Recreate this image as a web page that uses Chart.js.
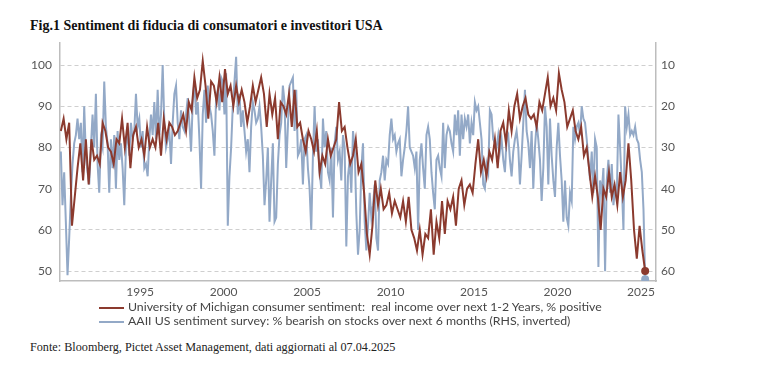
<!DOCTYPE html>
<html>
<head>
<meta charset="utf-8">
<script src="https://cdn.jsdelivr.net/npm/chart.js@4.4.1/dist/chart.umd.min.js"></script>
<style>
  body { margin: 0; background: #fff; width: 780px; height: 370px; position: relative; overflow: hidden; }
  #title { position: absolute; left: 30px; top: 18px; font: bold 14px "Liberation Serif", serif; color: #111; }
  #wrap { position: absolute; left: 0; top: 28px; width: 700px; height: 277px; }
  #legend { position: absolute; left: 99px; top: 300px; font: 12.3px Lato, sans-serif; color: #444; line-height: 14px; white-space: pre; }
  #legend .sw { display: inline-block; width: 25px; height: 2px; vertical-align: middle; margin-right: 4px; }
  #source { position: absolute; left: 30px; top: 340px; font: 12.2px "Liberation Serif", serif; color: #222; }
</style>
</head>
<body>
<div id="title">Fig.1 Sentiment di fiducia di consumatori e investitori USA</div>
<div id="wrap"><canvas id="myChart"></canvas></div>
<div id="legend"></div>
<div id="source">Fonte: Bloomberg, Pictet Asset Management, dati aggiornati al 07.04.2025</div>
<script>
// Michigan: % positive on real income, every 2 months from 1990.25
const michStart = 1990.25;
const michStep = 1 / 6;
const michValues = [
  84, 87, 82, 86, 61,
  68, 75, 81, 72, 82, 71,
  82, 77, 78, 76, 86, 84,
  80, 79, 76, 82, 81, 87,
  80, 86, 75, 83, 85, 80,
  82, 78, 85, 80, 82, 80,
  86, 78, 87, 82, 86, 85,
  83, 84, 86, 88, 84, 91,
  89, 97, 92, 94, 101, 95,
  87, 96, 95, 91, 97, 91,
  99, 93, 95, 90, 95, 91,
  94, 91, 86, 90, 95, 91,
  94, 97, 93, 85, 93, 88,
  92, 82, 91, 90, 88, 93,
  85, 94, 85, 86, 82, 79,
  84, 82, 79, 84, 74, 78,
  76, 82, 78, 80, 82, 91,
  84, 85, 80, 76, 78, 82,
  74, 76, 69, 59, 54, 61,
  72, 66, 70, 65, 66, 69,
  64, 67, 65, 63, 67, 62,
  68, 60, 58, 55, 60, 54,
  59, 58, 65, 54, 62, 58,
  67, 59, 67, 65, 68, 61,
  70, 72, 66, 70, 71, 69,
  76, 82, 74, 77, 73, 79,
  77, 82, 75, 84, 86, 81,
  89, 84, 90, 93, 87, 90,
  92, 88, 87, 88, 85, 91,
  89, 93, 97, 90, 92, 89,
  98, 94, 91, 85, 87, 89,
  84, 82, 85, 78, 80, 74,
  68, 73, 68, 60, 70, 68,
  74, 68, 71, 66, 74, 68,
  72, 81, 72, 60, 53, 61,
  55, 50
];

// AAII: % bearish, every 0.1 year from 1990.25 (right axis, inverted)
const aaiiStart = 1990.25;
const aaiiStep = 0.1;
const aaiiValues = [
  31, 44, 36, 48, 61, 52, 42, 34, 29, 27,
  23, 28, 24, 36, 20, 32, 36, 39, 30, 22,
  30, 17, 34, 41, 28, 30, 14, 25, 29, 41,
  28, 35, 27, 40, 26, 33, 29, 35, 44, 30,
  26, 32, 24, 28, 26, 17, 25, 23, 30, 26,
  35, 34, 37, 28, 22, 27, 19, 28, 16, 27,
  22, 10, 24, 30, 28, 26, 34, 24, 17, 15,
  24, 28, 21, 25, 26, 22, 18, 24, 31, 19,
  14, 22, 19, 28, 40, 22, 16, 24, 15, 20,
  22, 26, 32, 18, 16, 21, 13, 14, 22, 12,
  49, 37, 30, 20, 14, 8, 22, 17, 25, 21,
  26, 31, 28, 36, 25, 19, 21, 24, 23, 20,
  25, 32, 44, 38, 30, 48, 38, 29, 48, 47,
  34, 27, 24, 15, 19, 35, 25, 15, 14, 13,
  26, 16, 32, 31, 28, 39, 28, 27, 35, 40,
  50, 32, 20, 31, 28, 36, 40, 23, 30, 26,
  36, 38, 30, 47, 29, 25, 33, 31, 38, 27,
  30, 54, 37, 33, 41, 26, 30, 46, 56, 50,
  35, 29, 48, 55, 49, 41, 47, 44, 39, 52,
  55, 38, 36, 32, 38, 33, 34, 27, 23, 28,
  27, 31, 29, 28, 37, 33, 30, 26, 20, 30,
  31, 32, 35, 31, 50, 33, 29, 35, 40, 27,
  25, 28, 36, 41, 45, 33, 32, 35, 37, 24,
  35, 27, 25, 26, 29, 31, 22, 27, 21, 32,
  22, 28, 23, 25, 22, 29, 24, 27, 19, 21,
  20, 24, 28, 39, 40, 34, 36, 21, 22, 28,
  29, 30, 27, 31, 28, 33, 36, 28, 27, 33,
  37, 31, 28, 26, 30, 39, 32, 24, 16, 26,
  29, 35, 26, 40, 30, 24, 28, 33, 43, 35,
  20, 25, 39, 23, 32, 38, 42, 30, 24, 32,
  38, 48, 38, 47, 49, 41, 43, 25, 28, 25,
  24, 27, 20, 23, 24, 28, 33, 38, 31, 41,
  28, 30, 59, 38, 41, 35, 60, 38, 33, 41,
  34, 44, 40, 42, 22, 30, 39, 50, 20, 25,
  22, 27, 26, 27, 25, 28, 29, 33, 36, 45,
  62
];

const xTicks = [1995, 2000, 2005, 2010, 2015, 2020, 2025];
const leftTicks = [50, 60, 70, 80, 90, 100];
const rightTicks = [10, 20, 30, 40, 50, 60];

const michLabel = "University of Michigan consumer sentiment:  real income over next 1-2 Years, % positive";
const aaiiLabel = "AAII US sentiment survey: % bearish on stocks over next 6 months (RHS, inverted)";

const redColor = "#8b3a2e";
const blueColor = "#93a9c7";

const michPoints = michValues.map((v, i) => ({ x: michStart + i * michStep, y: v }));
const aaiiPoints = aaiiValues.map((v, i) => ({ x: aaiiStart + i * aaiiStep, y: v }));

function lastDot(ctx) {
  return ctx.dataIndex === ctx.dataset.data.length - 1 ? 3 : 0;
}

const tickFont = { family: "Lato, sans-serif", size: 12 };

const ctx = document.getElementById("myChart").getContext("2d");
const myChart = new Chart(ctx, {
  type: "line",
  data: {
    datasets: [
      {
        label: michLabel,
        data: michPoints,
        yAxisID: "y",
        borderColor: redColor,
        backgroundColor: redColor,
        borderWidth: 2,
        pointRadius: lastDot,
        tension: 0,
        order: 1
      },
      {
        label: aaiiLabel,
        data: aaiiPoints,
        yAxisID: "y2",
        borderColor: blueColor,
        backgroundColor: blueColor,
        borderWidth: 2,
        pointRadius: lastDot,
        tension: 0,
        order: 2
      }
    ]
  },
  options: {
    responsive: true,
    maintainAspectRatio: false,
    animation: false,
    layout: { padding: { top: 8, left: 0, right: 0, bottom: 0 } },
    plugins: { legend: { display: false }, tooltip: { enabled: false } },
    scales: {
      x: {
        type: "linear",
        min: 1990.2,
        max: 2025.9,
        afterBuildTicks: (s) => { s.ticks = xTicks.map((v) => ({ value: v })); },
        afterFit: (s) => { s.height = 24; },
        grid: { display: false, drawTicks: false },
        border: { display: true, color: "#bdbdbd", width: 1.5 },
        ticks: { color: "#555", font: tickFont, padding: 4, maxRotation: 0, callback: (v) => String(v) }
      },
      y: {
        position: "left",
        min: 47.6,
        max: 105.3,
        afterBuildTicks: (s) => { s.ticks = leftTicks.map((v) => ({ value: v })); },
        afterFit: (s) => { s.width = 60; },
        grid: { color: "#cfcfcf", lineWidth: 1, drawTicks: false },
        border: { display: true, color: "#bdbdbd", width: 1.5, dash: [4, 3] },
        ticks: { color: "#555", font: tickFont, padding: 8 }
      },
      y2: {
        position: "right",
        reverse: true,
        min: 4.7,
        max: 62.4,
        afterBuildTicks: (s) => { s.ticks = rightTicks.map((v) => ({ value: v })); },
        afterFit: (s) => { s.width = 44; },
        grid: { display: false, drawTicks: false },
        border: { display: true, color: "#bdbdbd", width: 1.5 },
        ticks: { color: "#555", font: tickFont, padding: 5 }
      }
    }
  }
});

// legend drawn below the chart, one row per series
const legend = document.getElementById("legend");
[[redColor, michLabel], [blueColor, aaiiLabel]].forEach(([c, t]) => {
  const row = document.createElement("div");
  const sw = document.createElement("span");
  sw.className = "sw";
  sw.style.background = c;
  row.appendChild(sw);
  row.appendChild(document.createTextNode(t));
  legend.appendChild(row);
});
</script>
</body>
</html>
